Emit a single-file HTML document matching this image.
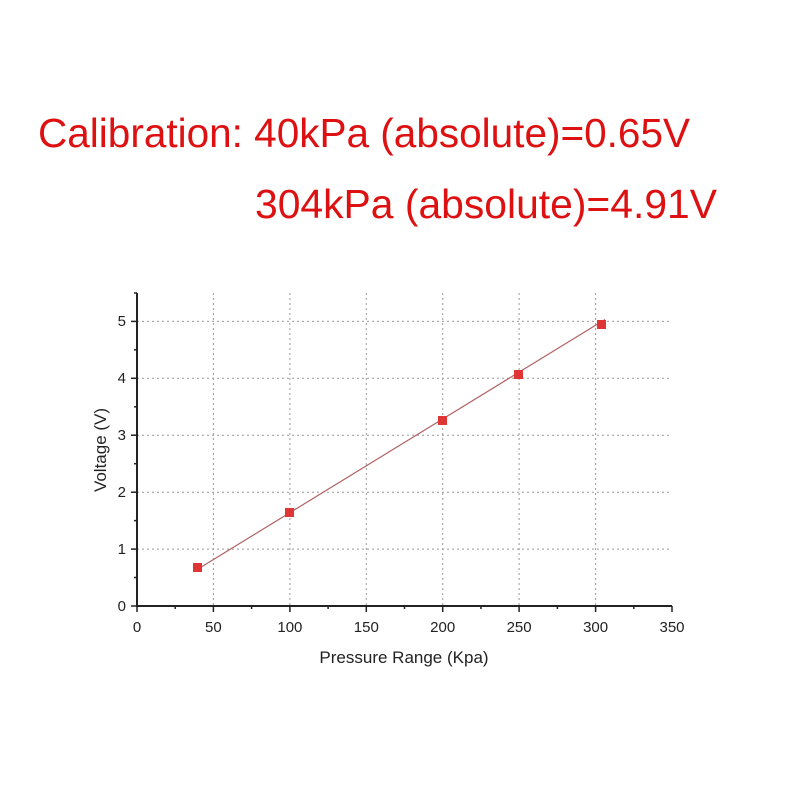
<!DOCTYPE html>
<html><head><meta charset="utf-8"><style>body{margin:0;background:#fff}svg{display:block}</style></head>
<body>
<svg width="800" height="800" xmlns="http://www.w3.org/2000/svg" font-family="Liberation Sans, sans-serif">
<rect width="800" height="800" fill="#fff"/>
<text x="38" y="147" font-size="41" fill="#dd1111" textLength="652" lengthAdjust="spacingAndGlyphs">Calibration: 40kPa (absolute)=0.65V</text>
<text x="255" y="218" font-size="41" fill="#dd1111" textLength="462" lengthAdjust="spacingAndGlyphs">304kPa (absolute)=4.91V</text>
<g stroke="#999" stroke-width="1" stroke-dasharray="2,3">
<line x1="213.4" y1="293" x2="213.4" y2="606"/>
<line x1="289.9" y1="293" x2="289.9" y2="606"/>
<line x1="366.3" y1="293" x2="366.3" y2="606"/>
<line x1="442.7" y1="293" x2="442.7" y2="606"/>
<line x1="519.1" y1="293" x2="519.1" y2="606"/>
<line x1="595.6" y1="293" x2="595.6" y2="606"/>
<line x1="137" y1="549.1" x2="672" y2="549.1"/>
<line x1="137" y1="492.2" x2="672" y2="492.2"/>
<line x1="137" y1="435.2" x2="672" y2="435.2"/>
<line x1="137" y1="378.3" x2="672" y2="378.3"/>
<line x1="137" y1="321.4" x2="672" y2="321.4"/>
</g>
<g stroke="#222" stroke-width="2">
<line x1="137" y1="293" x2="137" y2="607"/>
<line x1="136" y1="606" x2="672" y2="606"/>
</g>
<g stroke="#222" stroke-width="1.5">
<line x1="131" y1="606" x2="137" y2="606"/><line x1="131" y1="549.1" x2="137" y2="549.1"/><line x1="131" y1="492.2" x2="137" y2="492.2"/><line x1="131" y1="435.2" x2="137" y2="435.2"/><line x1="131" y1="378.3" x2="137" y2="378.3"/><line x1="131" y1="321.4" x2="137" y2="321.4"/>
<line x1="134" y1="577.5" x2="137" y2="577.5"/><line x1="134" y1="520.6" x2="137" y2="520.6"/><line x1="134" y1="463.7" x2="137" y2="463.7"/><line x1="134" y1="406.8" x2="137" y2="406.8"/><line x1="134" y1="349.8" x2="137" y2="349.8"/><line x1="134" y1="293" x2="137" y2="293"/>
<line x1="137" y1="606" x2="137" y2="612"/><line x1="213.4" y1="606" x2="213.4" y2="612"/><line x1="289.9" y1="606" x2="289.9" y2="612"/><line x1="366.3" y1="606" x2="366.3" y2="612"/><line x1="442.7" y1="606" x2="442.7" y2="612"/><line x1="519.1" y1="606" x2="519.1" y2="612"/><line x1="595.6" y1="606" x2="595.6" y2="612"/><line x1="672" y1="606" x2="672" y2="612"/>
<line x1="175.2" y1="606" x2="175.2" y2="609"/><line x1="251.6" y1="606" x2="251.6" y2="609"/><line x1="328.1" y1="606" x2="328.1" y2="609"/><line x1="404.5" y1="606" x2="404.5" y2="609"/><line x1="480.9" y1="606" x2="480.9" y2="609"/><line x1="557.4" y1="606" x2="557.4" y2="609"/><line x1="633.8" y1="606" x2="633.8" y2="609"/>
</g>
<g font-size="15" fill="#222" text-anchor="end">
<text x="126" y="611">0</text><text x="126" y="554">1</text><text x="126" y="497">2</text><text x="126" y="440">3</text><text x="126" y="383">4</text><text x="126" y="326">5</text>
</g>
<g font-size="15" fill="#222" text-anchor="middle">
<text x="137" y="632">0</text><text x="213.4" y="632">50</text><text x="289.9" y="632">100</text><text x="366.3" y="632">150</text><text x="442.7" y="632">200</text><text x="519.1" y="632">250</text><text x="595.6" y="632">300</text><text x="672" y="632">350</text>
</g>
<text x="404" y="663" font-size="17" fill="#222" text-anchor="middle">Pressure Range (Kpa)</text>
<text transform="translate(106,450) rotate(-90)" font-size="17" fill="#222" text-anchor="middle">Voltage (V)</text>
<line x1="198" y1="569" x2="605" y2="319.5" stroke="#b06060" stroke-width="1.2"/>
<g fill="#e03535">
<rect x="193" y="563" width="9" height="9"/>
<rect x="285" y="508" width="9" height="9"/>
<rect x="438" y="416" width="9" height="9"/>
<rect x="514" y="370" width="9" height="9"/>
<rect x="597" y="320" width="9" height="9"/>
</g>
</svg>
</body></html>
